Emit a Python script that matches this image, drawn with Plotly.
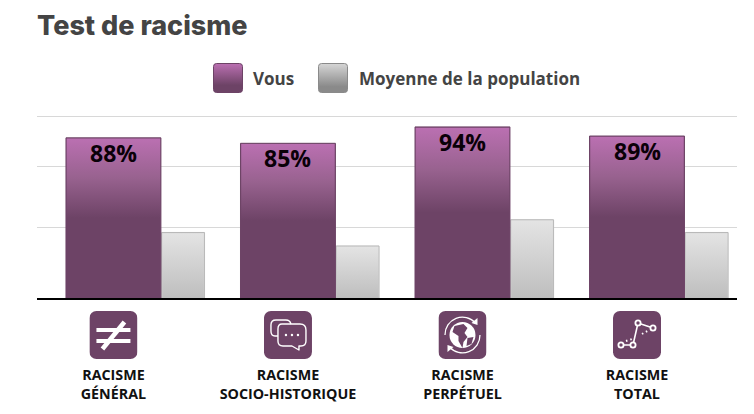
import base64
import plotly.graph_objects as go

categories = ['RACISME<br>GÉNÉRAL', 'RACISME<br>SOCIO-HISTORIQUE', 'RACISME<br>PERPÉTUEL', 'RACISME<br>TOTAL']
vous = [88, 85, 94, 89]
moyenne = [36, 28.6, 43, 36]
grid_vals = [39, 72.5, 100]

PURPLE = '#6d4366'
TEXT = '#444444'
x_pos = list(range(len(categories)))

W_PURPLE = 0.544
W_GREY = 0.246
PLOT_W = 700
PLOT_H = 184


def svg_uri(body, size=48):
    svg = f'<svg xmlns="http://www.w3.org/2000/svg" width="{size}" height="{size}" viewBox="0 0 {size} {size}">{body}</svg>'
    return 'data:image/svg+xml;base64,' + base64.b64encode(svg.encode()).decode()


# icons, drawn on a 48 unit square
bg = f'<rect width="48" height="48" rx="7" fill="{PURPLE}"/>'
icon_neq = bg + ('<g stroke="white" fill="none">'
                 '<path d="M7 19H41M7 30H41" stroke-width="3.8"/>'
                 '<path d="M35 11L13 38" stroke-width="4.6"/></g>')
icon_chat = bg + ('<g stroke="white" fill="none" stroke-width="1.4" stroke-linejoin="round">'
                  '<path d="M14 25H11Q7 25 7 20V14Q7 9 12 9H22Q26 9 27 13"/>'
                  '<path d="M18 13H36Q42 13 42 19V30Q42 35 37 35H35V39L28 35H19Q14 35 14 30V18Q14 13 18 13Z"/></g>'
                  '<g fill="white"><circle cx="22" cy="24" r="1.2"/><circle cx="28" cy="24" r="1.2"/><circle cx="34" cy="24" r="1.2"/></g>')
icon_globe = bg + ('<circle cx="24" cy="24" r="13" fill="white"/>'
                   f'<path d="M16 15L25 13L29 17L26 22L29 26L25 31L24 37L20 30L20 25L14 21Z" fill="{PURPLE}"/>'
                   f'<path d="M29 27L35 26L33 33L28 35Z" fill="{PURPLE}"/>'
                   '<g stroke="white" fill="none" stroke-width="1.3">'
                   '<path d="M6.5 24A17.5 17.5 0 0 1 37 12"/><path d="M41.5 24A17.5 17.5 0 0 1 11 36"/></g>'
                   '<path d="M39 7L39 14L33 12Z" fill="white"/><path d="M9 41L9 34L15 36Z" fill="white"/>')
icon_graph = bg + ('<g stroke="white" fill="none" stroke-width="1.6">'
                   '<path d="M8 34H20L25 12L40 17"/>'
                   '<path d="M13 30L19 28M29 23L36 19" stroke-dasharray="1.5 3" stroke-width="2"/></g>'
                   f'<g stroke="white" fill="{PURPLE}" stroke-width="1.8">'
                   '<circle cx="8" cy="34" r="2.6"/><circle cx="20" cy="34" r="2.6"/>'
                   '<circle cx="25" cy="12" r="2.6"/><circle cx="40" cy="17" r="2.6"/></g>')
icons = [icon_neq, icon_chat, icon_globe, icon_graph]

swatch_purple = svg_uri('<defs><linearGradient id="g" x1="0" y1="0" x2="0" y2="1">'
                        '<stop offset="0" stop-color="#bb70b2"/><stop offset="0.75" stop-color="#6d4366"/>'
                        '</linearGradient></defs>'
                        '<rect x="0.5" y="0.5" width="29" height="29" rx="3" fill="url(#g)" stroke="#6d4366"/>', 30)
swatch_grey = svg_uri('<defs><linearGradient id="g" x1="0" y1="0" x2="0" y2="1">'
                      '<stop offset="0" stop-color="#d6d6d6"/><stop offset="0.8" stop-color="#8a8a8a"/>'
                      '</linearGradient></defs>'
                      '<rect x="0.5" y="0.5" width="29" height="29" rx="3" fill="url(#g)" stroke="#8a8a8a"/>', 30)

fig = go.Figure()

# plain bars hold the values and the outlines
fig.add_trace(go.Bar(x=x_pos, y=moyenne, width=W_GREY, offset=W_PURPLE / 2 + 0.004,
                     marker=dict(color='#d0d0d0', line=dict(color='#b8b8b8', width=1)),
                     name='Moyenne de la population', hoverinfo='skip'))
fig.add_trace(go.Bar(x=x_pos, y=vous, width=W_PURPLE, offset=-W_PURPLE / 2,
                     marker=dict(color=PURPLE, line=dict(color=PURPLE, width=1)),
                     name='Vous', hoverinfo='skip'))

# gradient on top of each bar, bars have no gradient fill of their own
for i in x_pos:
    v = vous[i]
    left = i - W_PURPLE / 2 + 0.004
    right = i + W_PURPLE / 2 - 0.004
    fig.add_trace(go.Scatter(x=[left, left, right, right], y=[0, v - 0.4, v - 0.4, 0],
                             mode='none', fill='toself', hoverinfo='skip', showlegend=False,
                             fillgradient=dict(type='vertical', start=v, stop=0,
                                               colorscale=[[0, '#bb70b2'], [0.25, '#98628f'], [0.5, '#6d4366'], [1, '#6d4366']])))
    m = moyenne[i]
    g_left = i + W_PURPLE / 2 + 0.008
    g_right = g_left + W_GREY - 0.008
    fig.add_trace(go.Scatter(x=[g_left, g_left, g_right, g_right], y=[0, m - 0.4, m - 0.4, 0],
                             mode='none', fill='toself', hoverinfo='skip', showlegend=False,
                             fillgradient=dict(type='vertical', start=m, stop=0,
                                               colorscale=[[0, '#e4e4e4'], [1, '#bebebe']])))

images = [dict(source=swatch_purple, xref='paper', yref='paper', x=(213 - 37) / PLOT_W, y=(298 - 63) / PLOT_H,
               sizex=30 / PLOT_W, sizey=30 / PLOT_H, xanchor='left', yanchor='top', sizing='stretch', layer='above'),
          dict(source=swatch_grey, xref='paper', yref='paper', x=(318 - 37) / PLOT_W, y=(298 - 63) / PLOT_H,
               sizex=30 / PLOT_W, sizey=30 / PLOT_H, xanchor='left', yanchor='top', sizing='stretch', layer='above')]
for i, icon in zip(x_pos, icons):
    images.append(dict(source=svg_uri(icon), xref='x', yref='paper', x=i, y=-13 / PLOT_H,
                       sizex=48 / 174.5, sizey=48 / PLOT_H, xanchor='center', yanchor='top',
                       sizing='stretch', layer='above'))

legend_font = dict(family='Open Sans', size=17, color=TEXT, weight=700)
annotations = [
    dict(text='Test de racisme', xref='paper', yref='paper', x=0, y=(298 - 25) / PLOT_H, xanchor='left',
         xshift=-2, yanchor='middle', showarrow=False, font=dict(family='Inter', size=27, color=TEXT, weight=800)),
    dict(text='Vous', xref='paper', yref='paper', x=(253 - 37) / PLOT_W, y=(298 - 78) / PLOT_H, xanchor='left',
         xshift=-2, yanchor='middle', showarrow=False, font=legend_font),
    dict(text='Moyenne de la population', xref='paper', yref='paper', x=(359 - 37) / PLOT_W, y=(298 - 78) / PLOT_H,
         xanchor='left', xshift=-2, yanchor='middle', showarrow=False, font=legend_font),
]
for i in x_pos:
    annotations.append(dict(text=f'{vous[i]}%', x=i, y=vous[i], xref='x', yref='y', yanchor='top', yshift=3,
                            showarrow=False, font=dict(family='Open Sans', size=23, color='#0a0008', weight=700)))

# the page has an 8px body margin, the margins below allow for it
fig.update_layout(
    width=746, height=406,
    margin=dict(l=29, r=17, t=106, b=116, pad=0),
    paper_bgcolor='white', plot_bgcolor='white',
    barmode='overlay', showlegend=False,
    images=images, annotations=annotations,
    xaxis=dict(range=[-0.438, 3.573], tickvals=x_pos, ticktext=categories, ticks='', automargin=False,
               ticklabelstandoff=63, showgrid=False, zeroline=False,
               showline=True, linecolor='black', linewidth=2,
               tickfont=dict(family='Open Sans', size=14.3, color='#111111', weight=700)),
    yaxis=dict(range=[0, 101.1], tickvals=grid_vals, showticklabels=False, ticks='', zeroline=False,
               automargin=False, showgrid=True, gridcolor='#d8d8d8', gridwidth=1, showline=False),
)

fig.write_html("out.html")
